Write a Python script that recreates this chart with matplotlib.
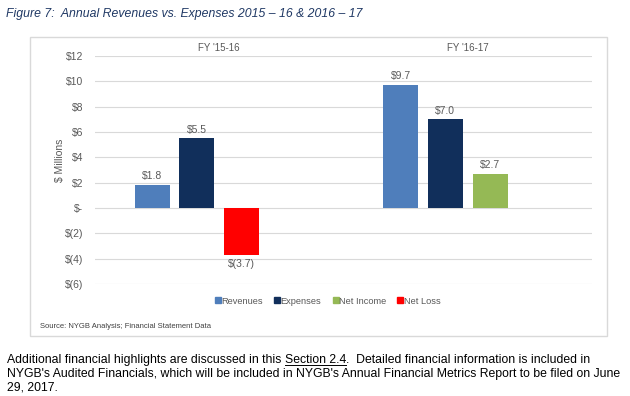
import numpy as np
import matplotlib.pyplot as plt
from matplotlib.patches import Rectangle
from matplotlib.lines import Line2D

plt.rcParams['font.family'] = ['Liberation Sans', 'DejaVu Sans']

years = ["FY '15-16", "FY '16-17"]
revenues = [1.8, 9.7]
expenses = [5.5, 7.0]
net = [-3.7, 2.7]
yticks = [12, 10, 8, 6, 4, 2, 0, -2, -4, -6]

c_rev = '#4F7EBB'
c_exp = '#112F5B'
c_inc = '#95B955'
c_loss = '#FF0000'
tick_col = '#595959'


def money(v):
    if v == 0:
        return '$-'
    if v < 0:
        return '$(%g)' % abs(v)
    return '$%g' % v


fig = plt.figure(figsize=(6.3, 3.96), dpi=100)

# chart frame
fig.patches.append(Rectangle((30 / 630, 1 - 336 / 396), 577 / 630, 299 / 396,
                             transform=fig.transFigure, fill=False,
                             edgecolor='#D9D9D9', lw=1.0))

ax = fig.add_axes([95 / 630, 1 - 284 / 396, 497 / 630, 228 / 396])

x = np.arange(len(years))
w = 0.14
step = 0.18
rb = ax.bar(x - 1.5 * step, revenues, w, color=c_rev)
eb = ax.bar(x - 0.5 * step, expenses, w, color=c_exp)
nb = ax.bar(x + 0.5 * step, net, w, color=[c_loss if v < 0 else c_inc for v in net])

for bars, vals in [(rb, revenues), (eb, expenses), (nb, net)]:
    for b, v in zip(bars, vals):
        cx = b.get_x() + b.get_width() / 2
        if v >= 0:
            ax.text(cx, v + 0.3, '$%.1f' % v, ha='center', va='bottom',
                    fontsize=7.5, color=tick_col)
        else:
            ax.text(cx, v - 0.3, '$(%.1f)' % abs(v), ha='center', va='top',
                    fontsize=7.5, color=tick_col)

ax.set_xlim(-0.5, 1.5)
ax.set_ylim(-6, 12)
ax.set_yticks(yticks)
ax.set_yticklabels([money(v) for v in yticks], fontsize=7.5, color=tick_col)
ax.tick_params(axis='y', length=0, pad=8.5)
ax.yaxis.grid(True, color='#D9D9D9', lw=0.8)
ax.set_axisbelow(True)
ax.xaxis.tick_top()
ax.set_xticks(x)
ax.set_xticklabels(years, fontsize=7, color=tick_col)
ax.tick_params(axis='x', length=0, pad=2)
for s in ax.spines.values():
    s.set_visible(False)
ax.set_ylabel('$ Millions', fontsize=7.5, color=tick_col)
ax.yaxis.set_label_coords(-30 / 497, 0.5 + 10 / 228)

handles = [Line2D([], [], marker='s', ls='', color=c, markersize=4)
           for c in [c_rev, c_exp, c_inc, c_loss]]
fig.legend(handles, ['Revenues', 'Expenses', 'Net Income', 'Net Loss'],
           loc='center', bbox_to_anchor=(328 / 630, 1 - 301 / 396), ncol=4,
           frameon=False, fontsize=6.7, handlelength=0.5, handletextpad=0.1,
           columnspacing=1.3, labelcolor=tick_col)

fig.text(40 / 630, 1 - 326 / 396, 'Source: NYGB Analysis; Financial Statement Data',
         fontsize=5.5, color='#404040', va='center')

fig.text(6 / 630, 1 - 14 / 396,
         'Figure 7:  Annual Revenues vs. Expenses 2015 \u2013 16 & 2016 \u2013 17',
         fontsize=8.8, style='italic', color='#1F3864', va='center')

# body paragraph
fs = 8.8
x0 = 7 / 630
y1 = 1 - 360 / 396
dy = 13.8 / 396
t0 = fig.text(x0, y1, 'Additional financial highlights are discussed in this ',
              fontsize=fs, va='center')
fig.canvas.draw()
r = fig.canvas.get_renderer()
bb = t0.get_window_extent(r)
xs = bb.x1 / fig.bbox.width
t1 = fig.text(xs, y1, 'Section 2.4', fontsize=fs, va='center')
bb1 = t1.get_window_extent(r)
x_end = bb1.x1 / fig.bbox.width
fig.add_artist(Line2D([xs, x_end], [y1 - 5 / 396, y1 - 5 / 396],
                      transform=fig.transFigure, color='black', lw=0.7))
fig.text(x_end, y1, '.  Detailed financial information is included in',
         fontsize=fs, va='center')
fig.text(x0, y1 - dy,
         "NYGB's Audited Financials, which will be included in NYGB's Annual Financial Metrics Report to be filed on June",
         fontsize=fs, va='center')
fig.text(x0, y1 - 2 * dy, '29, 2017.', fontsize=fs, va='center')

fig.savefig('out.png', dpi=100)
